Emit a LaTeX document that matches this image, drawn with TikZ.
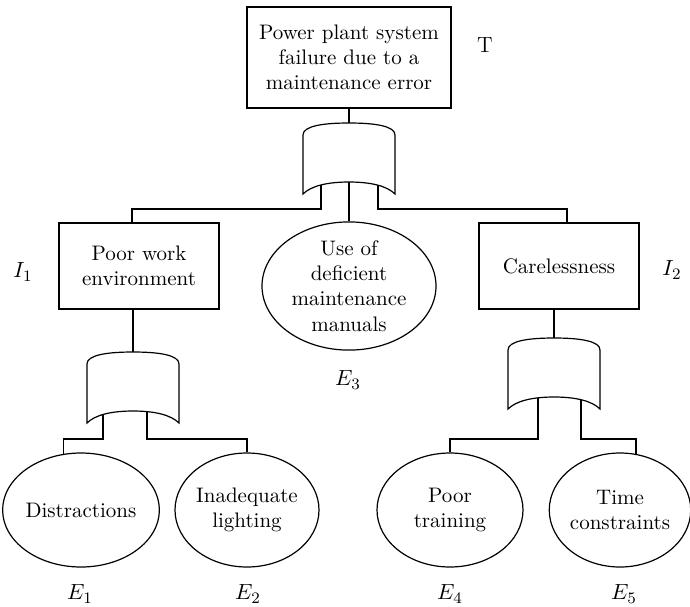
\documentclass[tikz,border=0pt]{standalone}
\usepackage{tikz}
\usetikzlibrary{positioning,calc,shapes.geometric}

\tikzset{
  event/.style={draw, line width=0.6pt, rectangle, align=center, inner sep=0pt},
  basic/.style={draw, line width=0.6pt, ellipse, align=center, inner sep=0pt},
  wire/.style={line width=0.6pt},
  tag/.style={inner sep=0pt, font=\fontsize{11}{13}\selectfont},
}

% AND gate: #1 name, #2 centre x, #3 y where the side walls start
\newcommand{\andgate}[3]{%
  \draw[wire, fill=white]
    (#2-46,#3) .. controls (#2-46,#3-9) and (#2-26,#3-12) .. (#2,#3-12)
    .. controls (#2+26,#3-12) and (#2+46,#3-9) .. (#2+46,#3)
    -- (#2+46,#3+59)
    .. controls (#2+38,#3+51) and (#2+22,#3+47) .. (#2,#3+47)
    .. controls (#2-22,#3+47) and (#2-38,#3+51) .. (#2-46,#3+59)
    -- cycle;
  \coordinate (#1-in) at (#2,#3-12);
  \coordinate (#1-out) at (#2,#3+47);
}

\begin{document}
\begin{tikzpicture}[x=0.5pt, y=-0.5pt, font=\fontsize{10.5}{12.6}\selectfont]

\useasboundingbox (0,0) rectangle (690,606);

% --- EVENTS ---
\node[event, minimum width=102pt, minimum height=50.5pt] (top) at (349,57.5)
  {Power plant system\\failure due to a\\maintenance error};
\node[event, minimum width=80pt, minimum height=43pt] (env) at (139,266)
  {Poor work\\environment};
\node[event, minimum width=80pt, minimum height=43pt] (care) at (559,266)
  {Carelessness};

\node[basic, minimum width=87pt, minimum height=64pt] (manual) at (349,286)
  {Use of\\deficient\\maintenance\\manuals};
\node[basic, minimum width=74pt, minimum height=57pt] (distr) at (81,510)
  {Distractions};
\node[basic, minimum width=72pt, minimum height=57pt] (light) at (247,510)
  {Inadequate\\lighting};
\node[basic, minimum width=73pt, minimum height=57pt] (train) at (450,510)
  {Poor\\training};
\node[basic, minimum width=69pt, minimum height=57pt] (time) at (620,510)
  {Time\\constraints};

% --- LABELS ---
\node[tag] (lT) at (485,45) {T};
\node[tag] (lI1) at (23,272) {$I_1$};
\node[tag] (lI2) at (672,270) {$I_2$};
\node[tag] (lE3) at (348,380) {$E_3$};
\node[tag] (lE1) at (80,594) {$E_1$};
\node[tag] (lE2) at (248,594) {$E_2$};
\node[tag] (lE4) at (450,594) {$E_4$};
\node[tag] (lE5) at (624,594) {$E_5$};

% bus levels under the gates
\coordinate (bus0) at (0,209);
\coordinate (bus1) at (0,439);

% --- CONNECTORS (gates are drawn on top with a white fill) ---
\coordinate (g0l) at (321,170);
\coordinate (g0r) at (378,170);
\coordinate (g1l) at (103,405);
\coordinate (g1r) at (147,405);
\coordinate (g2l) at (538,391);
\coordinate (g2r) at (581,391);

\draw[wire] (top.south) -- (349,123);
\draw[wire] (g0l) -- (g0l |- bus0) -| ([xshift=-3.5pt]env.north);
\draw[wire] (g0r) -- (g0r |- bus0) -| ([xshift=4pt]care.north);
\draw[wire] (349,170) -- (manual.north);

\draw[wire] (133,352) -- (133,352 |- env.south);
\draw[wire] (g1l) -- (g1l |- bus1) -| (distr.107);
\draw[wire] (g1r) -- (g1r |- bus1) -| (light.north);

\draw[wire] (554,338) -- (554,338 |- care.south);
\draw[wire] (g2l) -- (g2l |- bus1) -| (train.north);
\draw[wire] (g2r) -- (g2r |- bus1) -| (time.74);

% --- GATES ---
\andgate{g0}{349}{135}
\andgate{g1}{133}{364}
\andgate{g2}{554}{350}

\end{tikzpicture}
\end{document}
